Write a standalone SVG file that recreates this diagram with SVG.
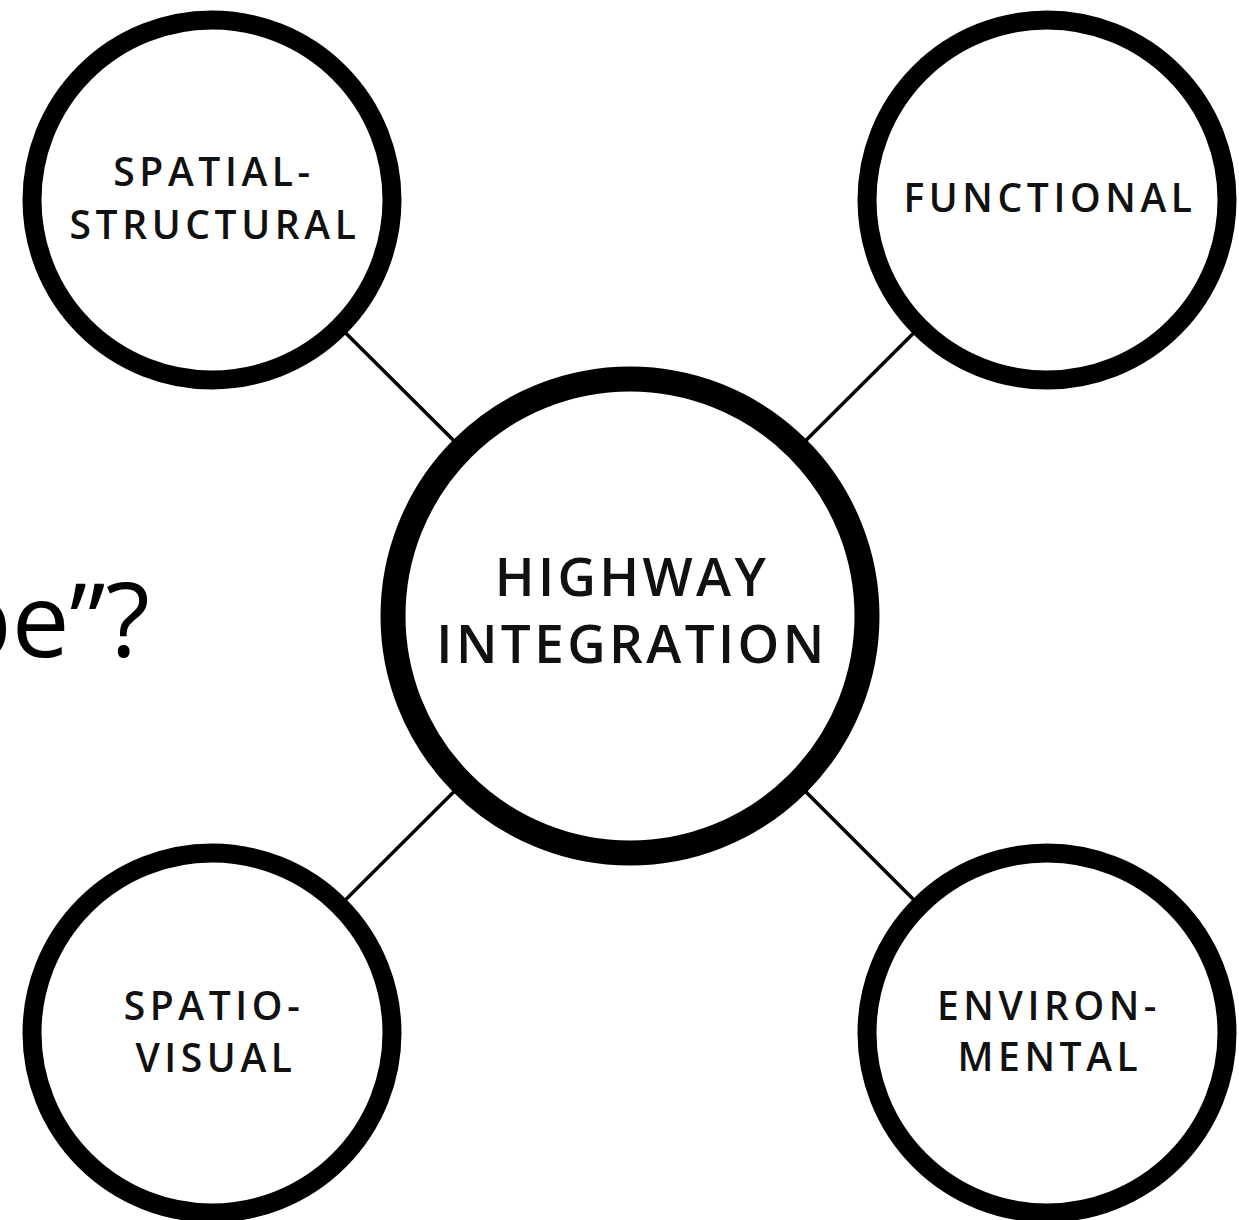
<svg xmlns="http://www.w3.org/2000/svg" width="1239" height="1220" viewBox="0 0 1239 1220">
<style>
.node{fill:#fff;stroke:#000;stroke-width:19}
.hub{fill:#fff;stroke:#000;stroke-width:25}
.lbl{font-family:"Open Sans","Noto Sans",sans-serif;font-weight:600;font-size:39px;letter-spacing:4.6px;text-anchor:middle;fill:#111}
.hubl{font-family:"Open Sans","Noto Sans",sans-serif;font-weight:600;font-size:53px;letter-spacing:3.4px;text-anchor:middle;fill:#111}
.conn{stroke:#000;stroke-width:3.5;fill:none}
</style>
<rect width="1239" height="1220" fill="#fff"/>
<text x="150" y="657" font-family="'Open Sans','Noto Sans',sans-serif" font-size="103" text-anchor="end" fill="#000">pe”?</text>
<g id="connectors">
<line class="conn" x1="212" y1="200" x2="630" y2="616"/>
<line class="conn" x1="1047" y1="200" x2="630" y2="616"/>
<line class="conn" x1="212" y1="1033" x2="630" y2="616"/>
<line class="conn" x1="1047" y1="1033" x2="630" y2="616"/>
</g>
<g id="spatial-structural">
<circle class="node" cx="212" cy="200" r="180"/>
<text class="lbl" x="214" y="186">SPATIAL-</text>
<text class="lbl" x="215" y="239">STRUCTURAL</text>
</g>
<g id="functional">
<circle class="node" cx="1047" cy="200" r="180"/>
<text class="lbl" x="1050" y="212">FUNCTIONAL</text>
</g>
<g id="highway-integration">
<circle class="hub" cx="630" cy="616" r="237"/>
<text class="hubl" x="632" y="596">HIGHWAY</text>
<text class="hubl" x="632" y="663">INTEGRATION</text>
</g>
<g id="spatio-visual">
<circle class="node" cx="212" cy="1033" r="180"/>
<text class="lbl" x="214" y="1020">SPATIO-</text>
<text class="lbl" x="216" y="1072">VISUAL</text>
</g>
<g id="environmental">
<circle class="node" cx="1047" cy="1033" r="180"/>
<text class="lbl" x="1049" y="1020">ENVIRON-</text>
<text class="lbl" x="1050" y="1071">MENTAL</text>
</g>
</svg>
